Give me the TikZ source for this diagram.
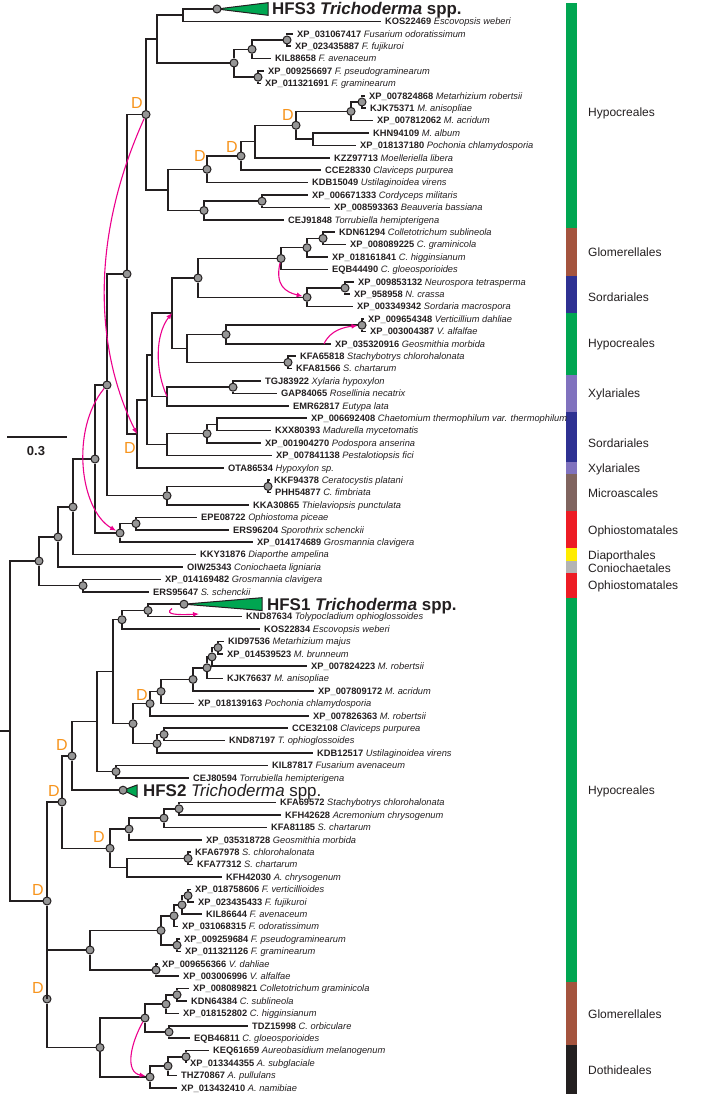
\documentclass[tikz,border=0pt]{standalone}
\usepackage{fontspec}
\setmainfont{Liberation Sans}
\usetikzlibrary{arrows.meta}
\definecolor{ink}{RGB}{35,31,32}
\definecolor{dotgray}{RGB}{150,150,150}
\definecolor{hgt}{RGB}{236,0,140}
\definecolor{dup}{RGB}{247,148,29}
\definecolor{hypo}{RGB}{0,166,81}
\definecolor{glom}{RGB}{164,84,62}
\definecolor{sord}{RGB}{46,49,146}
\definecolor{xyla}{RGB}{128,114,190}
\definecolor{micro}{RGB}{128,100,95}
\definecolor{ophio}{RGB}{237,28,36}
\definecolor{diap}{RGB}{255,236,0}
\definecolor{coni}{RGB}{180,180,180}
\definecolor{doth}{RGB}{35,31,32}
\tikzset{
 br/.style={draw=ink, line width=1.5pt},
 dot/.style={circle, draw=ink, fill=dotgray, line width=1pt, minimum size=8pt, inner sep=0pt},
 lab/.style={anchor=base west, inner sep=0pt, xshift=4pt, yshift=-3.3pt, font=\fontsize{9.3}{10}\selectfont, text=ink},
 dlab/.style={text=dup, font=\fontsize{16}{16}\selectfont, inner sep=0pt},
 hgtarrow/.style={draw=hgt, line width=1.1pt, -{Latex[length=6pt,width=5pt]}},
 tri/.style={draw=ink, fill=hypo, line width=1pt},
 bigl/.style={anchor=base west, inner sep=0pt, yshift=-6pt, font=\fontsize{16.9}{17}\selectfont, text=ink},
 ord/.style={anchor=base west, inner sep=0pt, yshift=-4.3pt, font=\fontsize{12}{12}\selectfont, text=ink},
 scl/.style={inner sep=0pt, font=\bfseries\fontsize{13}{13}\selectfont, text=ink},
}
\newcommand{\leaf}[5]{\coordinate (L#1) at (#2-4,#3); \node[lab] (T#1) at (L#1) {\textbf{#4} \textit{#5}};}
\newcommand{\br}[2]{\draw[br] (#1) |- (#2);}
\begin{document}
\begin{tikzpicture}[x=1pt,y=-1pt]
\useasboundingbox (0,0) rectangle (709,1097);
% ---------- order bars ----------
\fill[hypo] (566,3) rectangle (577,228);
\fill[glom] (566,228) rectangle (577,276);
\fill[sord] (566,276) rectangle (577,313);
\fill[hypo] (566,313) rectangle (577,375);
\fill[xyla] (566,375) rectangle (577,412);
\fill[sord] (566,412) rectangle (577,462);
\fill[xyla] (566,462) rectangle (577,474);
\fill[micro] (566,474) rectangle (577,511);
\fill[ophio] (566,511) rectangle (577,548);
\fill[diap] (566,548) rectangle (577,561);
\fill[coni] (566,561) rectangle (577,573);
\fill[ophio] (566,573) rectangle (577,598);
\fill[hypo] (566,598) rectangle (577,982);
\fill[glom] (566,982) rectangle (577,1045);
\fill[doth] (566,1045) rectangle (577,1094);
\node[ord] (o1) at (588,112) {Hypocreales};
\node[ord] (o2) at (588,252) {Glomerellales};
\node[ord] (o3) at (588,297) {Sordariales};
\node[ord] (o4) at (588,343) {Hypocreales};
\node[ord] (o5) at (588,393) {Xylariales};
\node[ord] (o6) at (588,443) {Sordariales};
\node[ord] (o7) at (588,468) {Xylariales};
\node[ord] (o8) at (588,493) {Microascales};
\node[ord] (o9) at (588,530) {Ophiostomatales};
\node[ord] (o10) at (588,555) {Diaporthales};
\node[ord] (o11) at (588,568) {Coniochaetales};
\node[ord] (o12) at (588,585) {Ophiostomatales};
\node[ord] (o13) at (588,790) {Hypocreales};
\node[ord] (o14) at (588,1014) {Glomerellales};
\node[ord] (o15) at (588,1070) {Dothideales};
% ---------- scale bar ----------
\coordinate (sbA) at (7,437);
\coordinate (sbB) at (67,437);
\draw[br] (sbA) -- (sbB);
\node[scl] (sbT) at (36,451) {0.3};
% ---------- leaves ----------
\leaf{2}{385}{21.4}{KOS22469}{Escovopsis weberi}
\leaf{3}{297}{33.8}{XP\_031067417}{Fusarium odoratissimum}
\leaf{4}{295}{46.2}{XP\_023435887}{F. fujikuroi}
\leaf{5}{275}{58.6}{KIL88658}{F. avenaceum}
\leaf{6}{268}{71}{XP\_009256697}{F. pseudograminearum}
\leaf{7}{265}{83.4}{XP\_011321691}{F. graminearum}
\leaf{8}{369}{95.8}{XP\_007824868}{Metarhizium robertsii}
\leaf{9}{370}{108.2}{KJK75371}{M. anisopliae}
\leaf{10}{377}{120.6}{XP\_007812062}{M. acridum}
\leaf{11}{373}{133}{KHN94109}{M. album}
\leaf{12}{360}{145.4}{XP\_018137180}{Pochonia chlamydosporia}
\leaf{13}{334}{157.8}{KZZ97713}{Moelleriella libera}
\leaf{14}{325}{170.2}{CCE28330}{Claviceps purpurea}
\leaf{15}{312}{182.6}{KDB15049}{Ustilaginoidea virens}
\leaf{16}{312}{195}{XP\_006671333}{Cordyceps militaris}
\leaf{17}{334}{207.4}{XP\_008593363}{Beauveria bassiana}
\leaf{18}{288}{219.8}{CEJ91848}{Torrubiella hemipterigena}
\leaf{19}{339}{232.2}{KDN61294}{Colletotrichum sublineola}
\leaf{20}{350}{244.6}{XP\_008089225}{C. graminicola}
\leaf{21}{332}{257}{XP\_018161841}{C. higginsianum}
\leaf{22}{332}{269.4}{EQB44490}{C. gloeosporioides}
\leaf{23}{358}{281.8}{XP\_009853132}{Neurospora tetrasperma}
\leaf{24}{354}{294.2}{XP\_958958}{N. crassa}
\leaf{25}{357}{306.6}{XP\_003349342}{Sordaria macrospora}
\leaf{26}{368}{319}{XP\_009654348}{Verticillium dahliae}
\leaf{27}{370}{331.4}{XP\_003004387}{V. alfalfae}
\leaf{28}{335}{343.8}{XP\_035320916}{Geosmithia morbida}
\leaf{29}{300}{356.2}{KFA65818}{Stachybotrys chlorohalonata}
\leaf{30}{296}{368.6}{KFA81566}{S. chartarum}
\leaf{31}{265}{381}{TGJ83922}{Xylaria hypoxylon}
\leaf{32}{281}{393.4}{GAP84065}{Rosellinia necatrix}
\leaf{33}{293}{405.8}{EMR62817}{Eutypa lata}
\leaf{34}{311}{418.2}{XP\_006692408}{Chaetomium thermophilum var. thermophilum}
\leaf{35}{275}{430.6}{KXX80393}{Madurella mycetomatis}
\leaf{36}{265}{443}{XP\_001904270}{Podospora anserina}
\leaf{37}{276}{455.4}{XP\_007841138}{Pestalotiopsis fici}
\leaf{38}{228}{467.8}{OTA86534}{Hypoxylon sp.}
\leaf{39}{274}{480.2}{KKF94378}{Ceratocystis platani}
\leaf{40}{275}{492.6}{PHH54877}{C. fimbriata}
\leaf{41}{253}{505}{KKA30865}{Thielaviopsis punctulata}
\leaf{42}{201}{517.4}{EPE08722}{Ophiostoma piceae}
\leaf{43}{233}{529.8}{ERS96204}{Sporothrix schenckii}
\leaf{44}{257}{542.2}{XP\_014174689}{Grosmannia clavigera}
\leaf{45}{200}{554.6}{KKY31876}{Diaporthe ampelina}
\leaf{46}{187}{567}{OIW25343}{Coniochaeta ligniaria}
\leaf{47}{165}{579.4}{XP\_014169482}{Grosmannia clavigera}
\leaf{48}{153}{591.8}{ERS95647}{S. schenckii}
\leaf{50}{246}{616.6}{KND87634}{Tolypocladium ophioglossoides}
\leaf{51}{264}{629}{KOS22834}{Escovopsis weberi}
\leaf{52}{228}{641.4}{KID97536}{Metarhizium majus}
\leaf{53}{227}{653.8}{XP\_014539523}{M. brunneum}
\leaf{54}{311}{666.2}{XP\_007824223}{M. robertsii}
\leaf{55}{227}{678.6}{KJK76637}{M. anisopliae}
\leaf{56}{318}{691}{XP\_007809172}{M. acridum}
\leaf{57}{198}{703.4}{XP\_018139163}{Pochonia chlamydosporia}
\leaf{58}{313}{715.8}{XP\_007826363}{M. robertsii}
\leaf{59}{292}{728.2}{CCE32108}{Claviceps purpurea}
\leaf{60}{229}{740.6}{KND87197}{T. ophioglossoides}
\leaf{61}{317}{753}{KDB12517}{Ustilaginoidea virens}
\leaf{62}{272}{765.4}{KIL87817}{Fusarium avenaceum}
\leaf{63}{193}{777.8}{CEJ80594}{Torrubiella hemipterigena}
\leaf{65}{280}{802.6}{KFA69572}{Stachybotrys chlorohalonata}
\leaf{66}{285}{815}{KFH42628}{Acremonium chrysogenum}
\leaf{67}{271}{827.4}{KFA81185}{S. chartarum}
\leaf{68}{206}{839.8}{XP\_035318728}{Geosmithia morbida}
\leaf{69}{195}{852.2}{KFA67978}{S. chlorohalonata}
\leaf{70}{197}{864.6}{KFA77312}{S. chartarum}
\leaf{71}{226}{877}{KFH42030}{A. chrysogenum}
\leaf{72}{195}{889.4}{XP\_018758606}{F. verticillioides}
\leaf{73}{198}{901.8}{XP\_023435433}{F. fujikuroi}
\leaf{74}{206}{914.2}{KIL86644}{F. avenaceum}
\leaf{75}{182}{926.6}{XP\_031068315}{F. odoratissimum}
\leaf{76}{184}{939}{XP\_009259684}{F. pseudograminearum}
\leaf{77}{185}{951.4}{XP\_011321126}{F. graminearum}
\leaf{78}{162}{963.8}{XP\_009656366}{V. dahliae}
\leaf{79}{183}{976.2}{XP\_003006996}{V. alfalfae}
\leaf{80}{193}{988.6}{XP\_008089821}{Colletotrichum graminicola}
\leaf{81}{191}{1001}{KDN64384}{C. sublineola}
\leaf{82}{183}{1013.4}{XP\_018152802}{C. higginsianum}
\leaf{83}{252}{1025.8}{TDZ15998}{C. orbiculare}
\leaf{84}{194}{1038.2}{EQB46811}{C. gloeosporioides}
\leaf{85}{213}{1050.6}{KEQ61659}{Aureobasidium melanogenum}
\leaf{86}{190}{1063}{XP\_013344355}{A. subglaciale}
\leaf{87}{181}{1075.4}{THZ70867}{A. pullulans}
\leaf{88}{181}{1087.8}{XP\_013432410}{A. namibiae}
% ---------- collapsed clades ----------
\coordinate (h3a) at (268,2.7);
\coordinate (h3b) at (268,15.3);
\coordinate (h1a) at (262,597.7);
\coordinate (h1b) at (262,610.5);
\coordinate (h2a) at (137,785);
\coordinate (h2b) at (137,797);
\filldraw[tri] (217,9) -- (h3a) -- (h3b) -- cycle;
\filldraw[tri] (184,604.2) -- (h1a) -- (h1b) -- cycle;
\filldraw[tri] (123,790.2) -- (h2a) -- (h2b) -- cycle;
\node[bigl] (T1) at (272,9) {\textbf{HFS3 \textit{Trichoderma} spp.}};
\node[bigl] (T49) at (267,604.2) {\textbf{HFS1 \textit{Trichoderma} spp.}};
\node[bigl] (T64) at (143,790.2) {\textbf{HFS2} \textit{Trichoderma} spp.};
% ---------- internal nodes: top ----------
\node[dot] (h3) at (217,9) {};
\coordinate (N1) at (183,15.2);
\node[dot] (Fa1) at (287,40) {};
\node[dot] (Fa) at (252,49.3) {};
\node[dot] (Fb) at (258,77.2) {};
\node[dot] (Fus) at (234,63) {};
\coordinate (N2) at (157,39);
\node[dot] (N12) at (362,102) {};
\node[dot] (N10) at (351,111.4) {};
\coordinate (N11) at (313,139.2);
\node[dot] (N9) at (296,125.3) {};
\coordinate (N8) at (255,141.6);
\node[dot] (N7) at (241,156) {};
\node[dot] (N5) at (207,169.3) {};
\node[dot] (N13) at (262,201.2) {};
\node[dot] (N6) at (204,210.5) {};
\coordinate (N4) at (168,190);
\node[dot] (N3) at (146,114.5) {};
\node[dot] (G1) at (323,238.4) {};
\node[dot] (G2) at (307,247.7) {};
\node[dot] (G3) at (281,258.5) {};
\node[dot] (S1) at (345,288) {};
\node[dot] (S2) at (307,297.3) {};
\node[dot] (GS) at (198,278) {};
\node[dot] (V1) at (362,325.2) {};
\node[dot] (V2) at (226,334.5) {};
\node[dot] (St1) at (288,362.4) {};
\coordinate (VS) at (187,348.5);
\coordinate (N172) at (172,313);
\node[dot] (X1) at (233,387.2) {};
\coordinate (X2) at (167,396.5);
\coordinate (NX) at (152,355);
\coordinate (C1) at (217,424.4);
\node[dot] (C2) at (207,433.7) {};
\coordinate (C3) at (167,444.5);
\coordinate (NY) at (147,400);
\coordinate (ND2) at (137,434);
\node[dot] (N127) at (127,274) {};
\node[dot] (M1) at (268,486.4) {};
\node[dot] (M2) at (167,495.7) {};
\node[dot] (N107) at (107,385) {};
\node[dot] (O1) at (136,523.6) {};
\node[dot] (O2) at (120,533) {};
\node[dot] (N95) at (95,459) {};
\node[dot] (N73) at (73,507) {};
\node[dot] (N58) at (58,537) {};
\node[dot] (O3) at (83,585.6) {};
\node[dot] (N39) at (39,561) {};
% ---------- internal nodes: bottom ----------
\node[dot] (h1) at (184,604.2) {};
\node[dot] (H1) at (148,610.4) {};
\node[dot] (H2) at (122,619.7) {};
\node[dot] (Ma) at (218,647.6) {};
\node[dot] (Mb) at (212,656.9) {};
\node[dot] (Mc) at (207,667.8) {};
\node[dot] (Md) at (193,679.4) {};
\node[dot] (Me) at (161,691.4) {};
\node[dot] (Mf) at (150,703.6) {};
\node[dot] (Cl1) at (164,734.4) {};
\node[dot] (Cl2) at (157,743.7) {};
\node[dot] (Mg) at (133,723.7) {};
\coordinate (A) at (113,671.7);
\node[dot] (K1) at (116,771.6) {};
\node[dot] (h2) at (123,790.2) {};
\node[dot] (Sa1) at (179,808.8) {};
\node[dot] (Sa2) at (164,818.1) {};
\node[dot] (Sa3) at (129,829) {};
\node[dot] (Sb1) at (188,858.4) {};
\coordinate (Sb2) at (127,867.7);
\node[dot] (C) at (110,848.3) {};
\node[dot] (Fc1) at (188,895.6) {};
\node[dot] (Fc2) at (182,904.9) {};
\node[dot] (Fc3) at (174,915.8) {};
\node[dot] (Fd1) at (177,945.2) {};
\node[dot] (F) at (161,930.5) {};
\node[dot] (V) at (156,970) {};
\node[dot] (Cg1) at (177,994.8) {};
\node[dot] (Cg2) at (166,1004.1) {};
\node[dot] (Cg3) at (169,1032) {};
\node[dot] (Cg) at (145,1018) {};
\node[dot] (Do1) at (186,1056.8) {};
\node[dot] (Do2) at (168,1066) {};
\node[dot] (Do3) at (150,1077) {};
\coordinate (PA) at (97,721.7);
\node[dot] (D0) at (72,756) {};
\node[dot] (D1) at (62,802) {};
\node[dot] (FV) at (90,950) {};
\node[dot] (GD) at (100,1047.5) {};
\node[dot] (P1) at (47,999) {};
\node[dot] (Bot) at (47,901) {};
\coordinate (Root) at (10,731);
\coordinate (Stub) at (0,731);
% ---------- branches ----------
\br{N1}{h3}\br{N1}{L2}
\br{Fa1}{L3}\br{Fa1}{L4}
\br{Fa}{Fa1}\br{Fa}{L5}
\br{Fb}{L6}\br{Fb}{L7}
\br{Fus}{Fa}\br{Fus}{Fb}
\br{N2}{N1}\br{N2}{Fus}
\br{N12}{L8}\br{N12}{L9}
\br{N10}{N12}\br{N10}{L10}
\br{N11}{L11}\br{N11}{L12}
\br{N9}{N10}\br{N9}{N11}
\br{N8}{N9}\br{N8}{L13}
\br{N7}{N8}\br{N7}{L14}
\br{N5}{N7}\br{N5}{L15}
\br{N13}{L16}\br{N13}{L17}
\br{N6}{N13}\br{N6}{L18}
\br{N4}{N5}\br{N4}{N6}
\br{N3}{N2}\br{N3}{N4}
\br{G1}{L19}\br{G1}{L20}
\br{G2}{G1}\br{G2}{L21}
\br{G3}{G2}\br{G3}{L22}
\br{S1}{L23}\br{S1}{L24}
\br{S2}{S1}\br{S2}{L25}
\br{GS}{G3}\br{GS}{S2}
\br{V1}{L26}\br{V1}{L27}
\br{V2}{V1}\br{V2}{L28}
\br{St1}{L29}\br{St1}{L30}
\br{VS}{V2}\br{VS}{St1}
\br{N172}{GS}\br{N172}{VS}
\br{X1}{L31}\br{X1}{L32}
\br{X2}{X1}\br{X2}{L33}
\br{NX}{N172}\br{NX}{X2}
\br{C1}{L34}\br{C1}{L35}
\br{C2}{C1}\br{C2}{L36}
\br{C3}{C2}\br{C3}{L37}
\br{NY}{NX}\br{NY}{C3}
\br{ND2}{NY}\br{ND2}{L38}
\br{N127}{N3}\br{N127}{ND2}
\br{M1}{L39}\br{M1}{L40}
\br{M2}{M1}\br{M2}{L41}
\br{N107}{N127}\br{N107}{M2}
\br{O1}{L42}\br{O1}{L43}
\br{O2}{O1}\br{O2}{L44}
\br{N95}{N107}\br{N95}{O2}
\br{N73}{N95}\br{N73}{L45}
\br{N58}{N73}\br{N58}{L46}
\br{O3}{L47}\br{O3}{L48}
\br{N39}{N58}\br{N39}{O3}
\br{H1}{h1}\br{H1}{L50}
\br{H2}{H1}\br{H2}{L51}
\br{Ma}{L52}\br{Ma}{L53}
\br{Mb}{Ma}\br{Mb}{L54}
\br{Mc}{Mb}\br{Mc}{L55}
\br{Md}{Mc}\br{Md}{L56}
\br{Me}{Md}\br{Me}{L57}
\br{Mf}{Me}\br{Mf}{L58}
\br{Cl1}{L59}\br{Cl1}{L60}
\br{Cl2}{Cl1}\br{Cl2}{L61}
\br{Mg}{Mf}\br{Mg}{Cl2}
\br{A}{H2}\br{A}{Mg}
\br{K1}{L62}\br{K1}{L63}
\br{Sa1}{L65}\br{Sa1}{L66}
\br{Sa2}{Sa1}\br{Sa2}{L67}
\br{Sa3}{Sa2}\br{Sa3}{L68}
\br{Sb1}{L69}\br{Sb1}{L70}
\br{Sb2}{Sb1}\br{Sb2}{L71}
\br{C}{Sa3}\br{C}{Sb2}
\br{Fc1}{L72}\br{Fc1}{L73}
\br{Fc2}{Fc1}\br{Fc2}{L74}
\br{Fc3}{Fc2}\br{Fc3}{L75}
\br{Fd1}{L76}\br{Fd1}{L77}
\br{F}{Fc3}\br{F}{Fd1}
\br{V}{L78}\br{V}{L79}
\br{Cg1}{L80}\br{Cg1}{L81}
\br{Cg2}{Cg1}\br{Cg2}{L82}
\br{Cg3}{L83}\br{Cg3}{L84}
\br{Cg}{Cg2}\br{Cg}{Cg3}
\br{Do1}{L85}\br{Do1}{L86}
\br{Do2}{Do1}\br{Do2}{L87}
\br{Do3}{Do2}\br{Do3}{L88}
\br{PA}{A}\br{PA}{K1}
\br{D0}{PA}\br{D0}{h2}
\br{D1}{D0}\br{D1}{C}
\br{FV}{F}\br{FV}{V}
\br{GD}{Cg}\br{GD}{Do3}
\br{P1}{FV}\br{P1}{GD}
\br{Bot}{D1}\br{Bot}{P1}
\br{Root}{N39}\br{Root}{Bot}
\draw[br] (Stub) -- (Root);
% ---------- duplication labels ----------
\node[dlab] (dN3) at (137,103) {D};
\node[dlab] (dN9) at (288,115) {D};
\node[dlab] (dN7) at (232,147) {D};
\node[dlab] (dN5) at (200,156) {D};
\node[dlab] (dND2) at (130,448) {D};
\node[dlab] (dMf) at (142,695) {D};
\node[dlab] (dC) at (99,837) {D};
\node[dlab] (dD0) at (62,745) {D};
\node[dlab] (dD1) at (54,791) {D};
\node[dlab] (dBot) at (38,890) {D};
\node[dlab] (dP1) at (38,988) {D};
% ---------- transfer arrows ----------
\coordinate (a5s) at (324,344);
\coordinate (a6s) at (172,608.5);
\coordinate (a6e) at (199,614);
\draw[hgtarrow] (N3) .. controls (85,250) and (100,360) .. (ND2);
\draw[hgtarrow] (N107) .. controls (70,430) and (80,510) .. (O2);
\draw[hgtarrow] (X2) .. controls (155,370) and (155,335) .. (N172);
\draw[hgtarrow] (G3) .. controls (275,285) and (285,292) .. (S2);
\draw[hgtarrow] (a5s) .. controls (330,330) and (345,327) .. (V1);
\draw[hgtarrow] (a6s) .. controls (163,615) and (180,615) .. (a6e);
\draw[hgtarrow] (Cg) .. controls (130,1045) and (125,1072) .. (Do3);
\end{tikzpicture}
\end{document}
